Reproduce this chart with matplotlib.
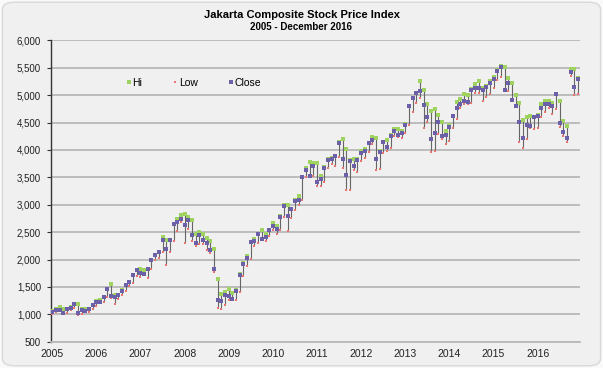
import matplotlib
matplotlib.use('Agg')
import matplotlib.pyplot as plt
from matplotlib.patches import FancyBboxPatch
from matplotlib.lines import Line2D
from matplotlib.ticker import FuncFormatter
import numpy as np

plt.rcParams['font.family'] = ['Liberation Sans', 'DejaVu Sans']

years = list(range(2005, 2017))

hi_2005 = [1052, 1090, 1130, 1105, 1095, 1135, 1192, 1195, 1090, 1100, 1100, 1170]
lo_2005 = [1005, 1040, 1070, 1005, 1025, 1085, 1120, 985, 1010, 1040, 1045, 1090]
cl_2005 = [1045, 1074, 1080, 1030, 1088, 1122, 1182, 1030, 1079, 1066, 1097, 1163]

hi_2006 = [1240, 1260, 1325, 1470, 1555, 1345, 1360, 1445, 1535, 1590, 1725, 1810]
lo_2006 = [1160, 1200, 1220, 1320, 1300, 1190, 1280, 1345, 1420, 1520, 1580, 1700]
cl_2006 = [1232, 1231, 1323, 1464, 1330, 1310, 1352, 1431, 1535, 1583, 1719, 1806]

hi_2007 = [1835, 1815, 1835, 2000, 2090, 2140, 2415, 2355, 2365, 2655, 2745, 2810]
lo_2007 = [1680, 1715, 1660, 1820, 1990, 2030, 2140, 1908, 2140, 2345, 2520, 2680]
cl_2007 = [1757, 1741, 1831, 1999, 2084, 2139, 2349, 2194, 2359, 2643, 2688, 2746]

hi_2008 = [2838, 2770, 2730, 2460, 2505, 2465, 2400, 2345, 2190, 1650, 1375, 1400]
lo_2008 = [2293, 2560, 2340, 2240, 2290, 2290, 2180, 2120, 1770, 1111, 1090, 1170]
cl_2008 = [2627, 2722, 2447, 2305, 2444, 2349, 2305, 2166, 1833, 1257, 1242, 1355]

hi_2009 = [1460, 1390, 1440, 1730, 1930, 2070, 2325, 2370, 2470, 2540, 2475, 2535]
lo_2009 = [1255, 1256, 1270, 1410, 1700, 1880, 2010, 2250, 2300, 2360, 2340, 2430]
cl_2009 = [1333, 1285, 1434, 1723, 1917, 2027, 2323, 2342, 2468, 2368, 2416, 2534]

hi_2010 = [2660, 2610, 2790, 2990, 2990, 2930, 3085, 3160, 3505, 3670, 3786, 3760]
lo_2010 = [2530, 2475, 2540, 2770, 2520, 2750, 2905, 3000, 3080, 3500, 3510, 3530]
cl_2010 = [2611, 2549, 2777, 2971, 2797, 2914, 3069, 3082, 3501, 3635, 3531, 3704]

hi_2011 = [3755, 3520, 3685, 3830, 3860, 3895, 4140, 4195, 4010, 3810, 3840, 3835]
lo_2011 = [3345, 3345, 3420, 3670, 3750, 3700, 3880, 3670, 3270, 3270, 3640, 3600]
cl_2011 = [3409, 3470, 3679, 3820, 3837, 3889, 4131, 3842, 3549, 3791, 3715, 3822]

hi_2012 = [3990, 4010, 4125, 4230, 4226, 3990, 4150, 4185, 4265, 4375, 4380, 4340]
lo_2012 = [3800, 3850, 3960, 4110, 3635, 3650, 3940, 3980, 4040, 4250, 4240, 4220]
cl_2012 = [3942, 3985, 4122, 4181, 3833, 3956, 4142, 4060, 4263, 4350, 4276, 4317]

hi_2013 = [4475, 4800, 4945, 5035, 5251, 5090, 4840, 4710, 4750, 4630, 4510, 4350]
lo_2013 = [4315, 4450, 4690, 4850, 4950, 4410, 4510, 3967, 3990, 4290, 4200, 4110]
cl_2013 = [4454, 4796, 4941, 5034, 5069, 4819, 4610, 4195, 4316, 4511, 4256, 4274]

hi_2014 = [4460, 4625, 4880, 4935, 5030, 5000, 5110, 5200, 5250, 5130, 5160, 5250]
lo_2014 = [4170, 4400, 4560, 4770, 4830, 4830, 4850, 5040, 5040, 4890, 4970, 5030]
cl_2014 = [4419, 4620, 4768, 4840, 4894, 4879, 5089, 5137, 5138, 5090, 5150, 5227]

hi_2015 = [5325, 5455, 5524, 5520, 5310, 5220, 5010, 4850, 4540, 4600, 4620, 4600]
lo_2015 = [5130, 5280, 5340, 5070, 5080, 4900, 4800, 4150, 4035, 4200, 4400, 4380]
cl_2015 = [5289, 5450, 5519, 5086, 5216, 4911, 4803, 4510, 4224, 4455, 4446, 4593]

hi_2016 = [4630, 4830, 4890, 4900, 4860, 5020, 4900, 4520, 4440, 5480, 5480, 5320]
lo_2016 = [4400, 4600, 4700, 4760, 4660, 4750, 4420, 4260, 4150, 5350, 5000, 5030]
cl_2016 = [4615, 4771, 4845, 4839, 4797, 5017, 4485, 4332, 4212, 5423, 5149, 5297]

hi = np.array(hi_2005 + hi_2006 + hi_2007 + hi_2008 + hi_2009 + hi_2010 +
              hi_2011 + hi_2012 + hi_2013 + hi_2014 + hi_2015 + hi_2016)
lo = np.array(lo_2005 + lo_2006 + lo_2007 + lo_2008 + lo_2009 + lo_2010 +
              lo_2011 + lo_2012 + lo_2013 + lo_2014 + lo_2015 + lo_2016)
cl = np.array(cl_2005 + cl_2006 + cl_2007 + cl_2008 + cl_2009 + cl_2010 +
              cl_2011 + cl_2012 + cl_2013 + cl_2014 + cl_2015 + cl_2016)
x = np.arange(len(cl))

W, H = 603, 368
fig = plt.figure(figsize=(W / 100, H / 100), dpi=100)
fig.patch.set_facecolor('#fafafa')
bg = FancyBboxPatch((0.004, 0.006), 0.992, 0.988,
                    boxstyle='round,pad=0,rounding_size=0.02',
                    transform=fig.transFigure, fc='#f0f0f0', ec='#d9d9d9', lw=1,
                    zorder=-10)
fig.patches.append(bg)

left, right, top, bottom = 50.7, 580, 40.4, 341.7
ax = fig.add_axes([left / W, 1 - bottom / H, (right - left) / W, (bottom - top) / H])
ax.set_zorder(5)
ax.set_facecolor('none')
ax.set_xlim(-0.4, 143.5)
ax.set_ylim(500, 6000)
ax.set_yticks(np.arange(500, 6001, 500))
ax.yaxis.set_major_formatter(FuncFormatter(lambda v, p: f'{int(v):,}'))
ax.set_xticks([12 * k for k in range(len(years))])
ax.set_xticklabels([str(y) for y in years])
ax.yaxis.grid(True, color='#b8b8b8', lw=1.3)
ax.set_axisbelow(True)
for s in ['top', 'right']:
    ax.spines[s].set_visible(False)
ax.spines['bottom'].set_color('#b8b8b8')
ax.spines['bottom'].set_linewidth(1.3)
ax.spines['left'].set_color('#333333')
ax.spines['left'].set_linewidth(1.0)
ax.tick_params(axis='y', length=3, color='#333333', labelsize=7, pad=4, labelcolor='#222222')
ax.tick_params(axis='x', length=0, labelsize=7.5, pad=5, labelcolor='#222222')

ax.vlines(x, lo, hi, color='#666666', lw=0.8, zorder=2)
ax.plot(x, hi, 's', color='#9fd35f', ms=2.2, mew=0, zorder=3)
ax.plot(x, lo, 's', color='#e8766e', ms=1.9, mew=0, zorder=3)
ax.plot(x, cl, 's', color='#6c61a8', ms=3.1, mew=0, zorder=4)

handles = [Line2D([], [], marker='s', ls='none', color='#9fd35f', ms=2.2, mew=0),
           Line2D([], [], marker='s', ls='none', color='#e8766e', ms=1.9, mew=0),
           Line2D([], [], marker='s', ls='none', color='#6c61a8', ms=2.6, mew=0)]
fig.legend(handles, ['Hi', 'Low', 'Close'], ncol=3, frameon=False,
           loc='center', bbox_to_anchor=(194 / W, 1 - 83 / H),
           fontsize=7.5, handlelength=0.4, handletextpad=0.15, columnspacing=3.0)

fig.text(0.5, 1 - 15 / H, 'Jakarta Composite Stock Price Index', ha='center', va='center',
         fontsize=8, fontweight='bold')
fig.text(0.5, 1 - 27 / H, '2005 - December 2016', ha='center', va='center',
         fontsize=7, fontweight='bold')

fig.savefig('out.png', dpi=100, facecolor=fig.get_facecolor())
